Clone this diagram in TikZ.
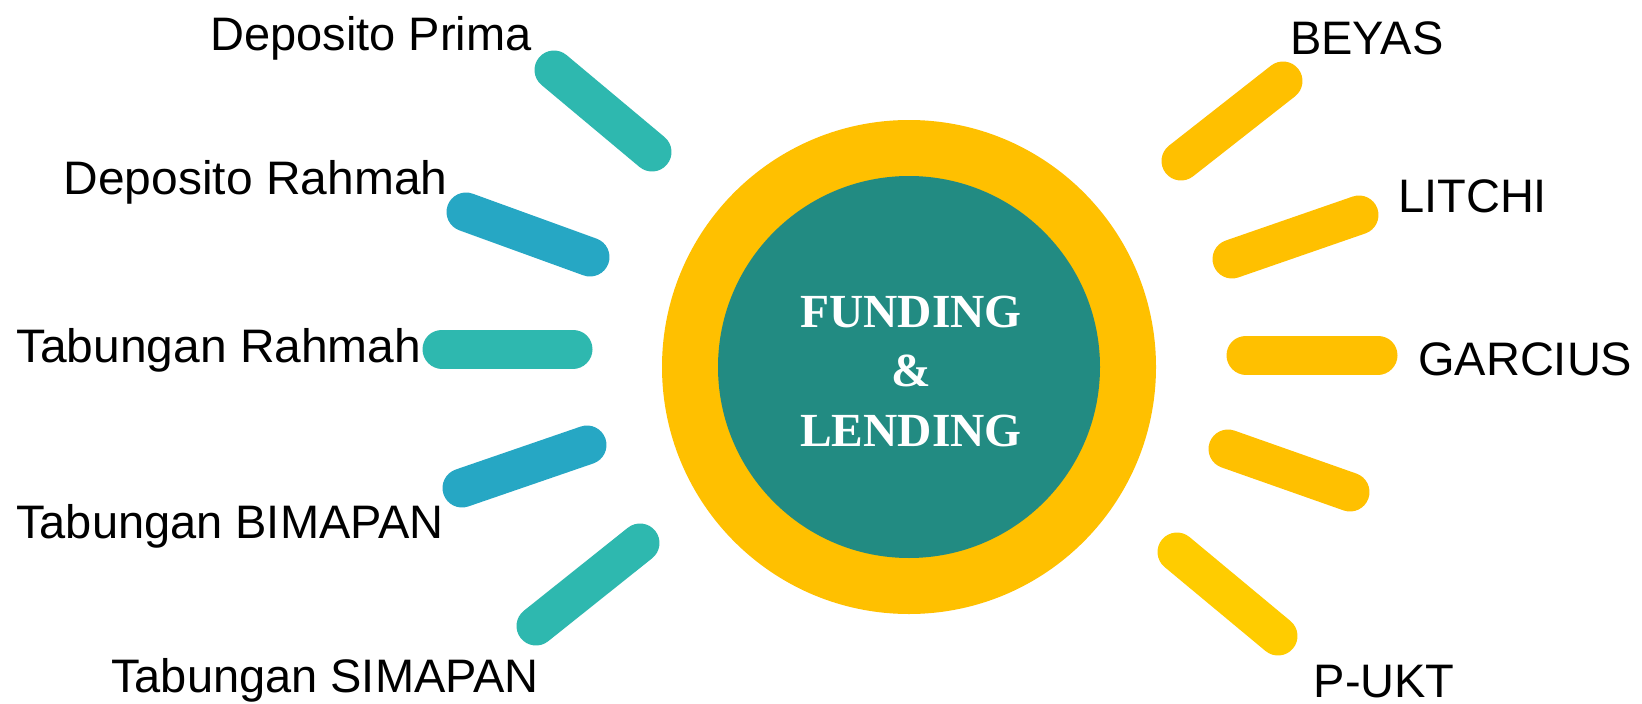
\documentclass[tikz,border=0pt]{standalone}
\usepackage{fontspec}
\setmainfont{Liberation Sans}
\newfontfamily\coreserif{Liberation Serif}
\newfontfamily\widesans[FakeStretch=1.02]{Liberation Sans}
\definecolor{tealbar}{RGB}{46,184,175}
\definecolor{bluebar}{RGB}{38,167,196}
\definecolor{sunyellow}{RGB}{255,192,0}
\definecolor{sunyellowb}{RGB}{255,204,0}
\definecolor{coreteal}{RGB}{34,139,130}
\tikzset{
  ray/.style={line width=39pt, line cap=round},
  lbl/.style={inner sep=0pt, anchor=base west, text=black, font=\fontsize{47}{56}\selectfont},
  widelbl/.style={lbl, font=\widesans\fontsize{47}{56}\selectfont},
}
\begin{document}
\begin{tikzpicture}[x=1pt,y=-1pt]
\useasboundingbox (0,0) rectangle (1642,704);
\fill[white] (0,0) rectangle (1642,704);

% central sun
\node[circle, fill=sunyellow, minimum size=494pt, inner sep=0pt] (outer) at (909,367) {};
\node[circle, fill=coreteal, minimum size=382pt, inner sep=0pt] (inner) at (909,367) {};
\node[inner sep=0pt, anchor=base, text=white, align=center,
      font=\coreserif\bfseries\fontsize{47.5}{59.5}\selectfont] (core) at (911,446) {FUNDING\\\&\\LENDING};

% left rays
\coordinate (l1a) at (554,70);  \coordinate (l1b) at (652,152);
\coordinate (l2a) at (466,212); \coordinate (l2b) at (590,257);
\coordinate (l3a) at (442,349); \coordinate (l3b) at (573,349);
\coordinate (l4a) at (462,488); \coordinate (l4b) at (587,445);
\coordinate (l5a) at (536,626); \coordinate (l5b) at (640,543);
\draw[ray, tealbar] (l1a) -- (l1b);
\draw[ray, bluebar] (l2a) -- (l2b);
\draw[ray, tealbar] (l3a) -- (l3b);
\draw[ray, bluebar] (l4a) -- (l4b);
\draw[ray, tealbar] (l5a) -- (l5b);

% right rays
\coordinate (r1a) at (1181,161); \coordinate (r1b) at (1283,81);
\coordinate (r2a) at (1232,259); \coordinate (r2b) at (1359,215);
\coordinate (r3a) at (1246,355); \coordinate (r3b) at (1378,355);
\coordinate (r4a) at (1228,449); \coordinate (r4b) at (1350,492);
\coordinate (r5a) at (1177,552); \coordinate (r5b) at (1278,636);
\draw[ray, sunyellow] (r1a) -- (r1b);
\draw[ray, sunyellow] (r2a) -- (r2b);
\draw[ray, sunyellow] (r3a) -- (r3b);
\draw[ray, sunyellow] (r4a) -- (r4b);
\draw[ray, sunyellowb] (r5a) -- (r5b);

% labels
\node[lbl] (dprima) at (210,50) {Deposito Prima};
\node[widelbl] (drahmah) at (63.5,194) {Deposito Rahmah};
\node[widelbl] (trahmah) at (16,362) {Tabungan Rahmah};
\node[lbl] (tbimapan) at (16,538) {Tabungan BIMAPAN};
\node[lbl] (tsimapan) at (111,692) {Tabungan SIMAPAN};
\node[lbl] (beyas) at (1290,54) {BEYAS};
\node[lbl] (litchi) at (1398,212) {LITCHI};
\node[lbl] (garcius) at (1418,375) {GARCIUS};
\node[lbl] (pukt) at (1313.5,697) {P-UKT};
\end{tikzpicture}
\end{document}
